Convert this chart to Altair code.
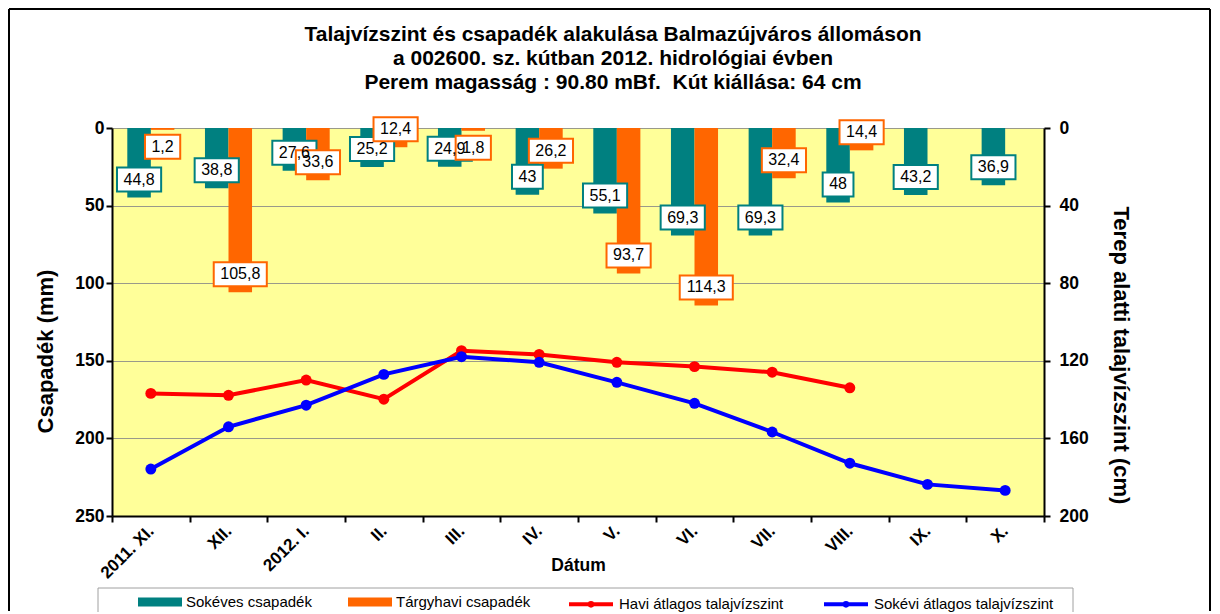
import altair as alt
import pandas as pd

# ---------------- data ----------------
months = ["2011. XI.", "XII.", "2012. I.", "II.", "III.", "IV.", "V.", "VI.",
          "VII.", "VIII.", "IX.", "X."]
sokeves_csapadek = [44.8, 38.8, 27.6, 25.2, 24.9, 43.0, 55.1, 69.3, 69.3, 48.0, 43.2, 36.9]
targyhavi_csapadek = [1.2, 105.8, 33.6, 12.4, 1.8, 26.2, 93.7, 114.3, 32.4, 14.4]
havi_talajviz = [136.8, 137.8, 129.9, 139.8, 114.8, 116.7, 120.8, 123.0, 125.9, 133.9]
sokevi_talajviz = [175.8, 154.0, 142.9, 127.0, 117.9, 120.8, 131.1, 141.9, 156.7, 172.8, 183.7, 186.8]

S_BAR = "Sokéves csapadék"
T_BAR = "Tárgyhavi csapadék"
H_LINE = "Havi átlagos talajvízszint"
S_LINE = "Sokévi átlagos talajvízszint"
TEAL, ORANGE, RED, BLUE = "#008080", "#FF6600", "#FF0000", "#0000FF"

FONT = "Liberation Sans"
W, H = 932, 388
MM_PER_PX = 250 / H


def fmt(v):
    return f"{v:g}".replace(".", ",")


def box_path(label):
    # label box drawn as a custom symbol (size 400 -> 10 px per unit)
    tw = sum(4.45 if c == "," else 8.9 for c in label)
    half_w = (tw + 13) / 2 / 10
    return f"M{-half_w:.3f},-1.2L{half_w:.3f},-1.2L{half_w:.3f},1.2L{-half_w:.3f},1.2Z"


rows = []
for name, vals in [(S_BAR, sokeves_csapadek), (T_BAR, targyhavi_csapadek)]:
    for m, v in zip(months, vals):
        lab = fmt(v)
        laby = v + 17 * MM_PER_PX if v < 5 else v - 18 * MM_PER_PX
        rows.append({"month": m, "series": name, "value": v, "label": lab,
                     "boxpath": box_path(lab), "laby": laby})
bars_df = pd.DataFrame(rows)

lrows = []
for name, vals in [(H_LINE, havi_talajviz), (S_LINE, sokevi_talajviz)]:
    for m, v in zip(months, vals):
        lrows.append({"month": m, "series": name, "value": v})
lines_df = pd.DataFrame(lrows)

# ---------------- scales / guides ----------------
bar_color = alt.Scale(domain=[S_BAR, T_BAR], range=[TEAL, ORANGE])
box_stroke = alt.Scale(domain=[T_BAR, S_BAR], range=[ORANGE, TEAL])
line_stroke = alt.Scale(domain=[H_LINE, S_LINE], range=[RED, BLUE])
dot_fill = alt.Scale(domain=[S_LINE, H_LINE], range=[BLUE, RED])
x_scale = alt.Scale(domain=months, paddingInner=0, paddingOuter=0)
xoff_scale = alt.Scale(domain=[S_BAR, T_BAR], paddingInner=0, paddingOuter=0.65)
y_left = alt.Scale(domain=[0, 250], reverse=True, nice=False)
y_right = alt.Scale(domain=[0, 200], reverse=True, nice=False)

legend_common = dict(
    title=None, orient="none", direction="horizontal", columns=2,
    symbolSize=1936, labelFontSize=15, labelFont=FONT,
    labelColor="black", labelOffset=4, labelLimit=400, padding=0, symbolOpacity=1,
)
bar_legend = alt.Legend(legendX=26, legendY=452, columnPadding=36,
                        symbolType="M-1,-0.2H1V0.2H-1Z", symbolStrokeWidth=0,
                        **legend_common)
line_legend = alt.Legend(legendX=455, legendY=452, columnPadding=32,
                         symbolType="M-1,0H1M-0.06,0A0.06,0.06,0,1,1,0.06,0A0.06,0.06,0,1,1,-0.06,0",
                         symbolStrokeWidth=4, **legend_common)

x_axis = alt.Axis(title="Dátum", labelAngle=-45, labelAlign="right", labelBaseline="middle",
                  labelPadding=6, tickBand="extent", tickSize=6, titleY=54,
                  titleBaseline="alphabetic", titleFontSize=17.5, labelFontSize=17)
left_axis = alt.Axis(
    title="Csapadék (mm)", values=[0, 50, 100, 150, 200, 250], grid=True,
    gridColor="#9a9a8a", gridWidth=1, tickSize=6, labelPadding=2,
    titleAngle=270, titleX=-67, titleY=223, titleBaseline="middle", titleAlign="center")
right_axis = alt.Axis(
    orient="right", title="Terep alatti talajvízszint (cm)",
    values=[0, 40, 80, 120, 160, 200], grid=False, tickSize=6, labelPadding=9,
    titleAngle=90, titleX=76, titleY=227, titleBaseline="middle", titleAlign="center")

X = alt.X("month:N", scale=x_scale, axis=x_axis, sort=months)
XOFF = alt.XOffset("series:N", scale=xoff_scale)
YL_val = alt.Y("value:Q", scale=y_left, axis=left_axis)
YL_lab = alt.Y("laby:Q", scale=y_left, axis=left_axis)
YR = alt.Y("value:Q", scale=y_right, axis=right_axis)

# ---------------- layers ----------------
base_bar = alt.Chart(bars_df)

bars = base_bar.mark_bar().encode(
    x=X, xOffset=XOFF, y=YL_val,
    color=alt.Color("series:N", scale=bar_color, legend=bar_legend),
)

boxes = base_bar.mark_point(size=400, filled=True, fill="white", strokeWidth=2, opacity=1).encode(
    x=X, xOffset=XOFF, y=YL_lab,
    shape=alt.Shape("boxpath:N", scale=None),
    stroke=alt.Stroke("series:N", scale=box_stroke, legend=None),
)

texts = base_bar.mark_text(fontSize=16, font=FONT, color="black", baseline="middle").encode(
    x=X, xOffset=XOFF, y=YL_lab, text="label:N",
)

base_line = alt.Chart(lines_df)
lines = base_line.mark_line(strokeWidth=4).encode(
    x=X, y=YR,
    stroke=alt.Stroke("series:N", scale=line_stroke, legend=line_legend),
)
dots = base_line.mark_circle(size=120, opacity=1).encode(
    x=X, y=YR,
    fill=alt.Fill("series:N", scale=dot_fill, legend=None),
)

one = alt.Data(values=[{}])
frame_left = alt.Chart(one).mark_rule(color="black", strokeWidth=2).encode(
    x=alt.value(-103), y=alt.value(-119), y2=alt.value(H + 95))
frame_right = alt.Chart(one).mark_rule(color="black", strokeWidth=2).encode(
    x=alt.value(1098), y=alt.value(-119), y2=alt.value(H + 95))
frame_top = alt.Chart(one).mark_rule(color="black", strokeWidth=2).encode(
    x=alt.value(-103), x2=alt.value(1098), y=alt.value(-119))
legend_box = alt.Chart(one).mark_rect(fill="white", stroke="#a0a0a0", strokeWidth=1).encode(
    x=alt.value(-14), x2=alt.value(961), y=alt.value(460), y2=alt.value(H + 120))

left = alt.layer(frame_left, frame_right, frame_top, legend_box, bars, boxes, texts)
right = alt.layer(lines, dots)
chart = alt.layer(left, right).resolve_scale(
    y="independent", stroke="independent"
).properties(
    width=W, height=H,
    autosize=alt.AutoSizeParams(type="none"),
    padding={"left": 104, "top": 120, "right": 168, "bottom": 96},
    title=alt.TitleParams(
        text=["Talajvízszint és csapadék alakulása Balmazújváros állomáson",
              "a 002600. sz. kútban 2012. hidrológiai évben",
              "Perem magasság : 90.80 mBf.\u00a0 Kút kiállása: 64 cm"],
        font=FONT, fontSize=21, fontWeight="bold", color="black", anchor="middle",
        dx=35, offset=-106, lineHeight=24, baseline="bottom"),
    background="white",
).configure_view(
    fill="#FFFF99", stroke=None
).configure_axis(
    domainColor="black", domainWidth=2, tickColor="black", tickWidth=2,
    labelFont=FONT, labelFontSize=17.5, labelFontWeight="bold", labelColor="black",
    titleFont=FONT, titleFontSize=22, titleFontWeight="bold", titleColor="black",
)

chart.save("out.html", embed_options={"renderer": "svg", "actions": False})
